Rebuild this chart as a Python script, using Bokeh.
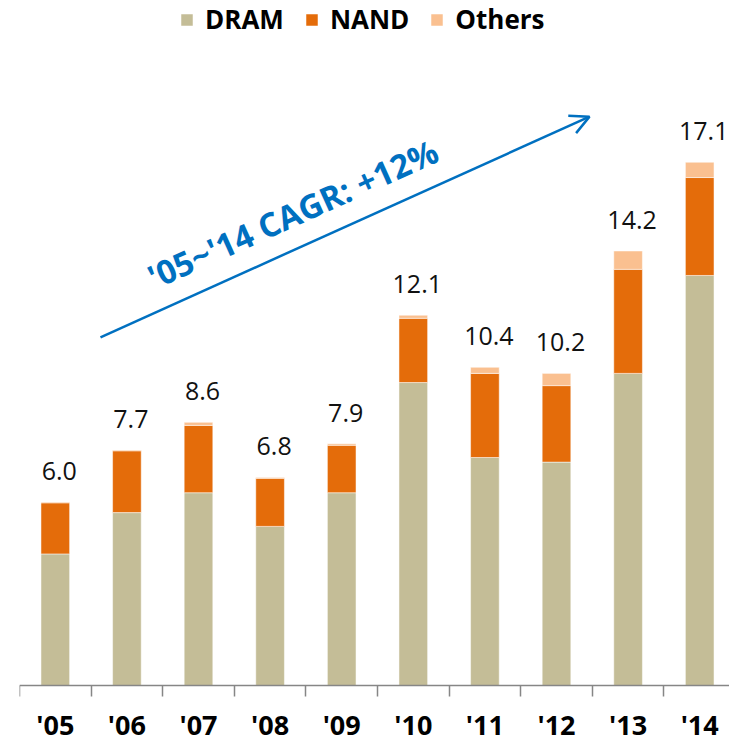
from bokeh.plotting import figure
from bokeh.models import (ColumnDataSource, Range1d, FixedTicker, Legend, LegendItem,
                          Arrow, OpenHead)
from bokeh.core.properties import value
from bokeh.embed import file_html
from bokeh.resources import INLINE

years = ["'05", "'06", "'07", "'08", "'09", "'10", "'11", "'12", "'13", "'14"]
dram = [4.3, 5.65, 6.3, 5.2, 6.3, 9.9, 7.45, 7.3, 10.2, 13.4]
nand = [1.67, 2.02, 2.2, 1.57, 1.55, 2.1, 2.75, 2.5, 3.4, 3.2]
others = [0.03, 0.03, 0.1, 0.03, 0.05, 0.1, 0.2, 0.4, 0.6, 0.5]
totals = [6.0, 7.7, 8.6, 6.8, 7.9, 12.1, 10.4, 10.2, 14.2, 17.1]
series = ["DRAM", "NAND", "Others"]
colors = ["#C4BD97", "#E46C0A", "#FAC090"]
cagr_text = "'05~'14 CAGR: +12%"

xs = [i + 0.5 for i in range(len(years))]
src = ColumnDataSource(dict(x=xs, DRAM=dram, NAND=nand, Others=others,
                            total=totals, label=["%.1f" % t for t in totals]))

W, H = 729, 742
LEFT = 19
PX_X = 71.6      # pixels per category
PX_Y = 30.6      # pixels per unit
BASE = 685       # pixel row of the baseline

p = figure(width=W, height=H,
           x_range=Range1d(0, (W - LEFT) / PX_X),
           y_range=Range1d(-(H - BASE) / PX_Y, BASE / PX_Y),
           output_backend="svg", toolbar_location=None,
           min_border_left=LEFT, min_border_right=0, min_border_top=0, min_border_bottom=0,
           y_axis_location=None)
p.grid.visible = False
p.outline_line_color = None
p.background_fill_color = "white"

rs = p.vbar_stack(series, x="x", width=0.40, source=src, color=colors,
                  line_color="white", line_alpha=0.5, line_width=1)

p.text(x="x", y="total", text="label", source=src, x_offset=4, y_offset=-31,
       text_align="center", text_baseline="alphabetic",
       text_font=value("Open Sans"), text_font_size="25px", text_color="#111111")

ax = p.xaxis[0]
ax.fixed_location = 0
ax.ticker = FixedTicker(ticks=xs, minor_ticks=list(range(len(years) + 1)))
ax.major_label_overrides = {x: y for x, y in zip(xs, years)}
ax.major_tick_line_color = None
ax.major_tick_out = 0
ax.major_tick_in = 0
ax.minor_tick_out = 11
ax.minor_tick_in = 0
ax.minor_tick_line_color = "#868686"
ax.minor_tick_line_width = 1.5
ax.axis_line_color = "#868686"
ax.axis_line_width = 1.5
ax.major_label_standoff = 9
ax.major_label_text_font = "Open Sans"
ax.major_label_text_font_style = "bold"
ax.major_label_text_font_size = "27px"
ax.major_label_text_color = "#000000"

legend = Legend(items=[LegendItem(label=s, renderers=[r]) for s, r in zip(series, rs)],
                orientation="horizontal", location=(160, 705),
                glyph_width=15, glyph_height=15, label_standoff=11, spacing=20,
                padding=0, margin=0, border_line_color=None, background_fill_alpha=0,
                label_text_font="Open Sans", label_text_font_style="bold",
                label_text_font_size="26px", label_text_color="#000000")
p.add_layout(legend)

p.add_layout(Arrow(end=OpenHead(size=19, line_color="#0070C0", line_width=2.5),
                   x_start=1.131, y_start=11.38, x_end=7.961, y_end=18.59,
                   line_color="#0070C0", line_width=2.5))
p.text(x=[1.816], y=[13.3], text=[cagr_text], angle=0.424,
       text_align="left", text_baseline="alphabetic",
       text_font=value("Open Sans"), text_font_style="bold", text_font_size="33px",
       text_color="#0070C0")

open("out.html", "w").write(file_html(p, INLINE))
